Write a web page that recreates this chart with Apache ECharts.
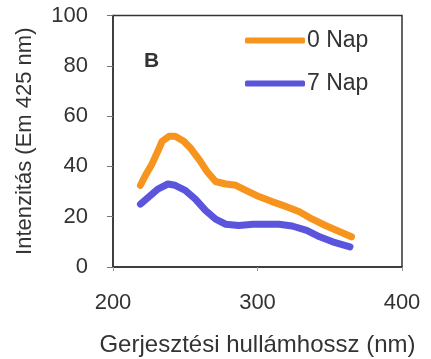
<!DOCTYPE html>
<html>
<head>
<meta charset="utf-8">
<style>
html, body { margin: 0; padding: 0; background: #fff; }
#chart { width: 431px; height: 359px; }
</style>
<script src="https://cdn.jsdelivr.net/npm/echarts@6/dist/echarts.min.js"></script>
</head>
<body>
<div id="chart"></div>
<script>
// wavelengths (nm) and intensities
var wave0 = [219, 223, 227, 231, 234, 239, 243, 249, 254, 260, 265, 271, 278, 285, 292, 301, 310, 320, 329, 338, 347, 357, 365];
var nap0 = [32.5, 37, 41, 46, 50, 52, 52, 50, 47, 42.4, 38, 34, 33, 32.5, 30.5, 28, 26, 24, 22, 19, 16.5, 14, 12];

var wave7 = [219, 225, 231, 238, 243, 250, 257, 264, 271, 278, 287, 297, 306, 315, 324, 334, 343, 352, 364];
var nap7 = [25, 28, 31, 33, 32.5, 30.5, 27, 22.5, 19, 17, 16.5, 17, 17, 17, 16.3, 14.6, 12, 10, 8];

var xTicks = [200, 300, 400];
var yTicks = [0, 20, 40, 60, 80, 100];

var FONT = "Liberation Sans";

function pairs(xs, ys) {
  return xs.map(function (x, i) { return [x, ys[i]]; });
}

var myChart = echarts.init(document.getElementById("chart"));
var option = {
  animation: false,
  textStyle: { fontFamily: FONT },
  grid: {
    left: 113,
    right: 29,
    top: 15.5,
    bottom: 92,
    outerBoundsMode: "none",
    containLabel: false,
    show: true,
    borderColor: "#333",
    borderWidth: 1.5
  },
  graphic: [
    {
      type: "text",
      left: 144,
      top: 51,
      style: { text: "B", font: "bold 21px " + FONT, fill: "#333" }
    }
  ],
  legend: {
    orient: "vertical",
    left: 240,
    top: 24,
    itemWidth: 60,
    itemHeight: 6,
    itemGap: 20,
    icon: "roundRect",
    textStyle: { fontSize: 23, color: "#333", fontFamily: FONT, padding: [0, 0, 0, -3] },
    data: ["0 Nap", "7 Nap"]
  },
  xAxis: {
    type: "value",
    min: xTicks[0],
    max: xTicks[xTicks.length - 1],
    interval: 100,
    name: "Gerjesztési hullámhossz (nm)",
    nameLocation: "middle",
    nameGap: 66,
    nameTextStyle: { fontSize: 24, color: "#333", fontFamily: FONT },
    axisLine: { lineStyle: { color: "#333", width: 1.5 } },
    axisTick: { length: 4, lineStyle: { color: "#999" } },
    axisLabel: { margin: 25, fontSize: 22, color: "#333", fontFamily: FONT },
    splitLine: { show: false }
  },
  yAxis: {
    type: "value",
    min: yTicks[0],
    max: yTicks[yTicks.length - 1],
    interval: 20,
    name: "Intenzitás (Em 425 nm)",
    nameLocation: "middle",
    nameGap: 77,
    nameTextStyle: { fontSize: 22, color: "#333", fontFamily: FONT },
    axisLine: { show: true, lineStyle: { color: "#333", width: 1.5 } },
    axisTick: { show: true, length: 6, lineStyle: { color: "#777" } },
    axisLabel: { margin: 25, fontSize: 22, color: "#333", fontFamily: FONT },
    splitLine: { show: false }
  },
  series: [
    {
      name: "0 Nap",
      type: "line",
      data: pairs(wave0, nap0),
      showSymbol: false,
      color: "#f7941d",
      lineStyle: { width: 7, color: "#f7941d", cap: "round", join: "round" }
    },
    {
      name: "7 Nap",
      type: "line",
      data: pairs(wave7, nap7),
      showSymbol: false,
      color: "#5a55dc",
      lineStyle: { width: 7, color: "#5a55dc", cap: "round", join: "round" }
    }
  ]
};
myChart.setOption(option);
</script>
</body>
</html>
